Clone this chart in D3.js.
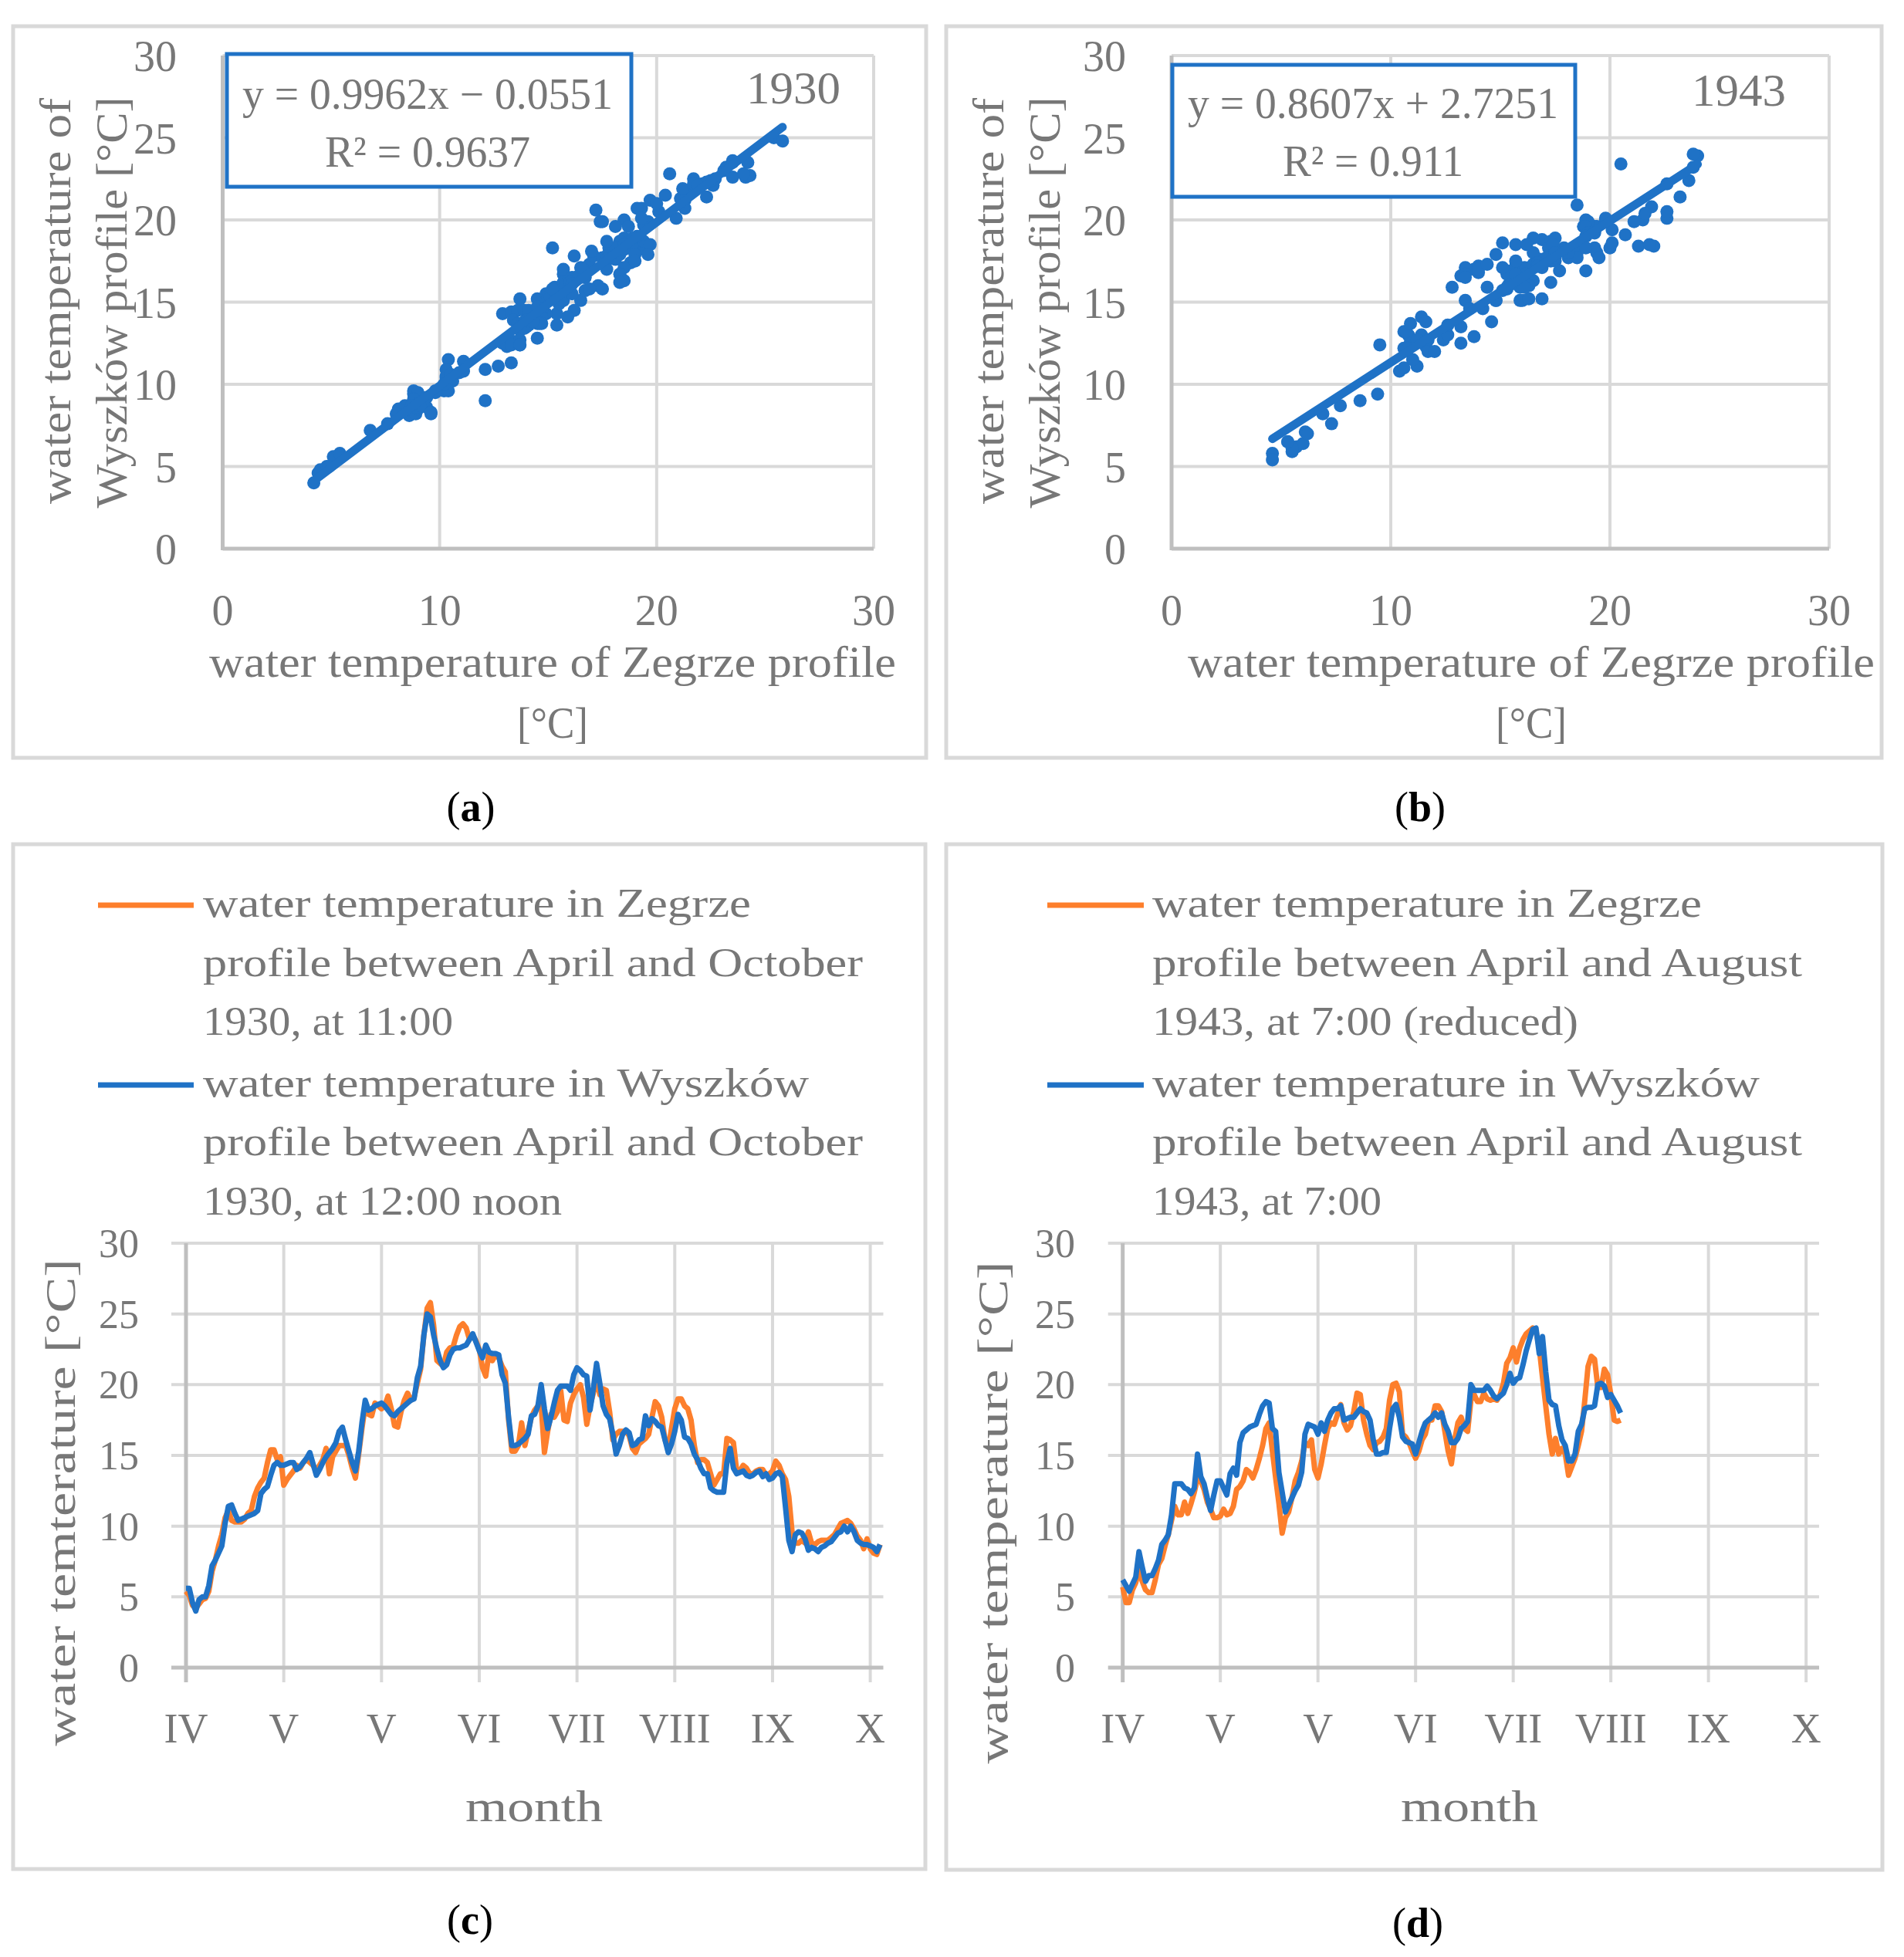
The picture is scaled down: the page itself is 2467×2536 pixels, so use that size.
<!DOCTYPE html>
<html><head><meta charset="utf-8">
<script src="https://cdn.jsdelivr.net/npm/d3@7"></script>
<style>body{margin:0;background:#fff}svg{display:block}</style>
</head><body>
<script>
// ---------------- DATA ----------------
// daily water temperature, day 0 = 1 April
const zegrze1930 = [
5.4,5.1,4.4,4.2,4.5,4.8,4.9,5.4,6.8,7.6,
8.6,9.4,10.6,11.1,10.4,10.3,10.3,10.3,10.5,10.9,
11.1,12.1,12.7,13.1,13.4,14.5,15.4,15.4,14.7,14.9,
12.9,13.3,13.6,13.9,14.3,14.1,14.5,14.7,14.5,14.3,
13.9,14.3,14.7,15.5,13.7,14.9,15.3,15.7,15.7,15.7,
15.0,14.1,13.4,15.1,16.9,18.5,17.9,17.8,18.7,18.5,
18.3,18.5,19.2,18.3,17.1,17.0,18.1,18.9,19.4,18.9,
19.1,20.1,21.1,23.5,25.4,25.8,24.2,21.7,21.5,21.3,
22.3,22.6,22.7,23.5,24.1,24.3,24.0,23.2,23.5,23.1,
22.5,21.2,20.6,22.3,21.7,22.1,21.9,21.3,20.9,17.5,
15.3,15.3,15.7,17.3,15.7,16.7,17.7,18.2,18.5,18.5,
15.2,16.7,17.9,17.7,18.1,19.6,17.5,17.4,18.7,19.3,
19.7,20.0,19.1,17.2,18.5,19.4,20.4,19.3,19.7,19.6,
18.1,16.1,16.5,16.7,16.7,16.7,16.4,15.5,15.2,15.8,
16.0,16.2,16.5,17.7,18.8,18.5,17.7,16.1,15.5,16.9,
18.3,19.0,19.0,18.5,18.3,17.5,15.7,14.5,14.7,14.7,
14.5,13.7,12.9,13.3,13.7,13.7,16.2,16.1,15.9,13.9,
13.9,14.3,14.1,13.7,13.7,13.9,14.0,14.0,13.6,13.7,
13.9,14.6,14.3,13.7,13.3,12.1,9.6,8.8,8.8,9.0,
8.8,9.6,8.8,8.7,8.9,9.0,9.0,9.0,9.2,9.4,
9.8,10.2,10.3,10.4,10.2,9.8,9.3,9.0,8.4,9.1,
8.4,8.1,8.0,8.7];
const wyszkow1930 = [
5.6,5.6,4.6,4.0,4.8,5.0,5.0,5.8,7.2,7.6,
8.1,8.6,10.2,11.4,11.5,10.9,10.4,10.5,10.6,10.7,
10.8,10.9,11.1,12.3,12.6,12.8,13.6,14.3,14.5,14.3,
14.3,14.4,14.5,14.5,14.0,14.2,14.5,14.8,15.2,14.4,
13.6,14.0,14.5,14.9,15.2,15.5,15.9,16.7,17.0,16.1,
15.3,14.5,13.9,15.3,17.3,18.9,18.2,18.3,18.5,18.6,
18.7,18.5,18.2,17.9,17.8,18.1,18.3,18.5,18.7,18.9,
19.0,20.5,21.3,23.5,25.0,24.8,23.5,22.5,21.7,21.2,
21.4,22.1,22.5,22.6,22.6,22.7,22.8,23.2,23.6,23.0,
22.4,21.9,22.8,22.3,22.2,22.2,22.1,20.7,20.1,17.7,
15.7,15.7,15.8,16.0,16.2,16.5,17.8,17.9,18.5,20.0,
18.3,16.9,17.7,18.7,19.6,19.9,19.9,19.9,19.6,20.7,
21.2,21.0,20.7,20.6,18.2,19.7,21.5,20.1,18.5,17.9,
17.6,16.5,15.1,15.7,16.5,16.8,16.6,15.7,15.8,16.1,
16.2,17.8,17.1,17.6,17.4,17.1,17.0,16.1,15.2,15.8,
16.7,17.9,17.5,16.3,16.2,15.8,15.1,14.7,14.1,13.7,
13.7,12.7,12.5,12.4,12.4,12.4,14.5,15.5,14.1,13.7,
13.8,13.9,13.6,13.5,13.6,13.8,13.9,13.5,13.7,13.3,
13.4,13.7,13.8,13.5,11.3,9.0,8.2,9.4,9.6,9.5,
9.1,8.3,8.5,8.4,8.2,8.5,8.6,8.8,8.9,9.2,
9.5,9.6,10.0,9.6,10.0,9.6,9.0,8.8,8.7,8.7,
8.6,8.5,8.2,8.7];
const zegrze1943 = [
5.7,4.6,4.6,5.5,6.0,6.9,6.1,5.5,5.3,5.3,
6.2,7.3,7.7,8.6,9.4,10.4,11.4,10.8,10.8,11.7,
10.9,11.6,12.4,13.4,13.2,12.6,11.7,11.2,10.6,10.6,
10.7,11.2,10.8,10.9,11.4,12.6,12.8,13.2,14.0,13.8,
13.4,14.0,14.8,15.7,16.9,17.3,15.3,13.4,11.6,9.5,
10.6,11.0,12.0,13.2,13.8,14.6,15.9,15.7,16.1,14.0,
13.4,14.4,15.7,16.9,17.3,17.2,17.9,18.6,17.3,16.8,
17.1,18.1,19.4,19.3,17.5,16.5,15.7,15.4,15.9,16.0,
16.3,16.9,18.9,20.0,20.1,19.5,16.5,16.3,15.9,15.3,
14.8,15.3,16.1,16.5,17.5,17.5,18.5,18.5,18.1,16.7,
15.3,14.4,16.1,17.3,17.7,16.9,16.7,18.9,19.3,18.8,
18.8,19.4,19.0,18.9,19.0,18.9,19.3,20.1,21.5,21.9,
22.6,21.6,22.6,23.2,23.6,23.8,24.0,23.8,22.6,20.5,
18.5,16.5,15.1,16.2,15.1,15.5,15.1,13.6,14.2,14.8,
15.7,16.7,18.9,21.3,22.0,21.8,19.8,19.8,21.1,20.7,
19.3,17.5,17.4,17.5];
const wyszkow1943 = [
6.2,5.8,5.4,5.9,6.4,8.2,7.1,6.1,6.5,6.5,
7.0,7.6,8.7,9.0,9.4,10.8,13.0,13.0,13.0,12.7,
12.6,12.3,12.7,15.1,13.5,13.0,12.0,11.1,12.2,13.2,
13.2,12.7,12.2,13.7,14.1,13.6,15.9,16.6,16.8,17.0,
17.1,17.2,17.9,18.5,18.8,18.7,16.9,16.7,13.8,12.4,
11.0,11.5,12.0,12.5,12.9,13.8,16.5,17.2,17.1,17.0,
16.5,17.3,16.7,17.5,18.0,18.3,18.3,18.5,17.5,17.6,
17.7,17.7,18.0,18.3,18.1,18.0,17.5,16.1,15.1,15.1,
15.2,15.2,16.9,18.3,18.6,17.7,16.3,16.0,15.9,15.8,
15.1,15.9,16.7,17.3,17.5,17.7,18.0,17.7,18.0,17.2,
16.7,15.9,15.9,16.2,16.9,17.1,17.4,20.0,19.6,19.6,
19.6,19.6,19.9,19.6,19.2,19.0,19.2,19.4,20.0,20.8,
20.1,20.4,20.5,21.4,22.4,23.2,23.9,24.0,22.2,23.4,
20.9,18.9,18.6,18.5,17.1,16.1,15.7,14.6,14.6,15.1,
16.7,17.2,18.3,18.4,18.4,18.5,20.0,20.1,19.9,19.1,
19.3,18.9,18.5,18.0];

const trend1930 = {slope: 0.9962, intercept: -0.0551, eq: "y = 0.9962x \u2212 0.0551", r2: "R\u00B2 = 0.9637", year: "1930"};
const trend1943 = {slope: 0.8607, intercept: 2.7251, eq: "y = 0.8607x + 2.7251", r2: "R\u00B2 = 0.911", year: "1943"};

const tempTicks = [0, 5, 10, 15, 20, 25, 30];
const scatterXTicks = [0, 10, 20, 30];
const monthTickDays = [0, 30, 60, 90, 120, 150, 180, 210];
const monthLabels = ["IV", "V", "V", "VI", "VII", "VIII", "IX", "X"];

const legend1930 = [
  ["water temperature in Zegrze", "profile between April and October", "1930, at 11:00"],
  ["water temperature in Wyszków", "profile between April and October", "1930, at 12:00 noon"]];
const legend1943 = [
  ["water temperature in Zegrze", "profile between April and August", "1943, at 7:00 (reduced)"],
  ["water temperature in Wyszków", "profile between April and August", "1943, at 7:00"]];

// ---------------- STYLE ----------------
const FONT = "'Liberation Serif','DejaVu Serif',serif";
const TXT = "#777777";
const GRID = "#d9d9d9";
const AXIS = "#bfbfbf";
const BLUE = "#1F72C6";
const ORANGE = "#FD7F2C";

const W = 2467, H = 2536;
const svg = d3.select("body").append("svg").attr("width", W).attr("height", H);
svg.append("rect").attr("width", W).attr("height", H).attr("fill", "#fff");

function txt(g, s, x, y, o = {}) {
  const t = g.append("text").attr("x", x).attr("y", y).text(s)
    .attr("font-family", FONT).attr("font-size", o.size || 52)
    .attr("fill", o.fill || TXT).attr("text-anchor", o.anchor || "start");
  if (o.len) t.attr("textLength", o.len).attr("lengthAdjust", "spacingAndGlyphs");
  if (o.rot) t.attr("transform", `rotate(-90,${x},${y})`);
  if (o.weight) t.attr("font-weight", o.weight);
  return t;
}
function panelBorder(x0, y0, x1, y1) {
  svg.append("rect").attr("x", x0).attr("y", y0).attr("width", x1 - x0).attr("height", y1 - y0)
    .attr("fill", "none").attr("stroke", GRID).attr("stroke-width", 5);
}
function panelLabel(letter, cx, by) {
  const t = svg.append("text").attr("x", cx).attr("y", by).attr("text-anchor", "middle")
    .attr("font-family", FONT).attr("font-size", 54).attr("fill", "#000");
  t.append("tspan").text("(");
  t.append("tspan").attr("font-weight", "bold").text(letter);
  t.append("tspan").text(")");
}

// ---------------- SCATTER ----------------
function scatter(c) {
  const g = svg.append("g");
  const x = d3.scaleLinear().domain([0, 30]).range([c.x0, c.x1]);
  const y = d3.scaleLinear().domain([0, 30]).range([c.y0, c.y1]);
  g.selectAll(".hg").data(tempTicks.filter(v => v > 0)).join("line")
    .attr("x1", c.x0).attr("x2", c.x1).attr("y1", d => y(d)).attr("y2", d => y(d))
    .attr("stroke", GRID).attr("stroke-width", 4);
  g.selectAll(".vg").data(scatterXTicks.filter(v => v > 0)).join("line")
    .attr("x1", d => x(d)).attr("x2", d => x(d)).attr("y1", c.y0).attr("y2", c.y1)
    .attr("stroke", GRID).attr("stroke-width", 4);
  g.append("line").attr("x1", x(0)).attr("x2", x(0)).attr("y1", c.y0 + 2).attr("y2", c.y1)
    .attr("stroke", AXIS).attr("stroke-width", 5);
  g.append("line").attr("x1", x(0)).attr("x2", c.x1).attr("y1", y(0)).attr("y2", y(0))
    .attr("stroke", AXIS).attr("stroke-width", 5);
  tempTicks.forEach(v => txt(g, String(v), c.ytickX, y(v) + 20, {size: 56, anchor: "end"}));
  scatterXTicks.forEach(v => txt(g, String(v), x(v), 810, {size: 56, anchor: "middle"}));
  const pts = c.xs.map((v, i) => [v, c.ys[i]]);
  g.selectAll("circle").data(pts).join("circle")
    .attr("cx", d => x(d[0])).attr("cy", d => y(d[1])).attr("r", 8.5).attr("fill", BLUE);
  const ext = d3.extent(c.xs);
  g.append("line")
    .attr("x1", x(ext[0])).attr("y1", y(c.trend.slope * ext[0] + c.trend.intercept))
    .attr("x2", x(ext[1])).attr("y2", y(c.trend.slope * ext[1] + c.trend.intercept))
    .attr("stroke", BLUE).attr("stroke-width", 11).attr("stroke-linecap", "round");
  g.append("rect").attr("x", c.box[0]).attr("y", c.box[1]).attr("width", c.box[2] - c.box[0])
    .attr("height", c.box[3] - c.box[1]).attr("fill", "#fff").attr("stroke", BLUE).attr("stroke-width", 5);
  txt(g, c.trend.eq, c.eqX, c.eqY1, {size: 57, anchor: "middle", len: 480});
  txt(g, c.trend.r2, c.eqX, c.eqY2, {size: 57, anchor: "middle", len: c.r2len});
  txt(g, c.trend.year, c.yearX, c.yearY, {size: 60, anchor: "middle", len: 122});
  txt(g, "water temperature of Zegrze profile", c.xtX, 877, {size: 56, anchor: "middle", len: 890});
  txt(g, "[°C]", c.xtX, 956, {size: 56, anchor: "middle", len: 92});
  txt(g, "water temperature of", c.ytX1, 390, {size: 56, anchor: "middle", len: 526, rot: true});
  txt(g, "Wyszków profile [°C]", c.ytX2, 392, {size: 56, anchor: "middle", len: 533, rot: true});
}

// ---------------- TIME SERIES ----------------
function series(c) {
  const g = svg.append("g");
  const x = d3.scaleLinear().domain([0, 214]).range([c.x0, c.x1]);
  const y = d3.scaleLinear().domain([0, 30]).range([2161, 1611]);
  g.selectAll(".hg").data(tempTicks.filter(v => v > 0)).join("line")
    .attr("x1", c.x0 - 19).attr("x2", c.x1).attr("y1", d => y(d)).attr("y2", d => y(d))
    .attr("stroke", GRID).attr("stroke-width", 4);
  g.selectAll(".vg").data(monthTickDays.filter(v => v > 0)).join("line")
    .attr("x1", d => x(d)).attr("x2", d => x(d)).attr("y1", y(30)).attr("y2", y(0) + 19)
    .attr("stroke", GRID).attr("stroke-width", 4);
  g.append("line").attr("x1", x(0)).attr("x2", x(0)).attr("y1", y(30)).attr("y2", y(0) + 19)
    .attr("stroke", AXIS).attr("stroke-width", 5);
  g.append("line").attr("x1", x(0) - 19).attr("x2", c.x1).attr("y1", y(0)).attr("y2", y(0))
    .attr("stroke", AXIS).attr("stroke-width", 5);
  tempTicks.forEach(v => txt(g, String(v), c.ytickX, y(v) + 18, {size: 52, anchor: "end"}));
  monthTickDays.forEach((d, i) => txt(g, monthLabels[i], x(d), 2258, {size: 54, anchor: "middle"}));
  txt(g, "month", c.monthX, 2360, {size: 56, anchor: "middle", len: 178});
  txt(g, c.ytitle, c.ytX, c.ytY, {size: 54, anchor: "middle", len: c.ytLen, rot: true});
  const line = d3.line().x((d, i) => x(i)).y(d => y(d));
  g.append("path").datum(c.zeg).attr("d", line).attr("fill", "none").attr("stroke", ORANGE)
    .attr("stroke-width", 7).attr("stroke-linejoin", "round");
  g.append("path").datum(c.wys).attr("d", line).attr("fill", "none").attr("stroke", BLUE)
    .attr("stroke-width", 7).attr("stroke-linejoin", "round");
  const lineY = [1173, 1406];
  const baseY = [[1188, 1265, 1341], [1421, 1497, 1574]];
  [ORANGE, BLUE].forEach((col, k) => {
    g.append("line").attr("x1", c.legX0).attr("x2", c.legX1).attr("y1", lineY[k]).attr("y2", lineY[k])
      .attr("stroke", col).attr("stroke-width", 7);
    c.legend[k].forEach((s, j) => txt(g, s, c.legTX, baseY[k][j], {size: 52, len: c.legLen[k][j]}));
  });
}

panelBorder(17, 34, 1200, 982);
panelBorder(1226, 34, 2438, 982);
panelBorder(17, 1094, 1199, 2422);
panelBorder(1226, 1094, 2439, 2423);

scatter({x0: 288.5, x1: 1132, y0: 711, y1: 72, xs: zegrze1930, ys: wyszkow1930, trend: trend1930,
  ytickX: 229, box: [294, 70, 818, 242], eqX: 554, eqY1: 141, eqY2: 216, r2len: 266,
  yearX: 1028, yearY: 134, xtX: 716, ytX1: 91, ytX2: 164});
scatter({x0: 1518, x1: 2370, y0: 711, y1: 72, xs: zegrze1943, ys: wyszkow1943, trend: trend1943,
  ytickX: 1459, box: [1519, 84, 2041, 255], eqX: 1779, eqY1: 153, eqY2: 228, r2len: 234,
  yearX: 2253, yearY: 137, xtX: 1984, ytX1: 1300, ytX2: 1373});

series({x0: 241, x1: 1144.5, zeg: zegrze1930, wys: wyszkow1930, ytickX: 180, monthX: 692,
  ytitle: "water temterature  [°C]", ytX: 97, ytY: 1947, ytLen: 631,
  legX0: 127, legX1: 251, legTX: 263, legend: legend1930,
  legLen: [[710, 855, 324], [785, 855, 465]]});
series({x0: 1454.7, x1: 2357, zeg: zegrze1943, wys: wyszkow1943, ytickX: 1393, monthX: 1904,
  ytitle: "water temperature  [°C]", ytX: 1305, ytY: 1960, ytLen: 651,
  legX0: 1357, legX1: 1482, legTX: 1493, legend: legend1943,
  legLen: [[712, 842, 552], [787, 842, 297]]});

panelLabel("a", 610, 1064);
panelLabel("b", 1840, 1064);
panelLabel("c", 609, 2506);
panelLabel("d", 1837, 2510);
</script>
</body></html>
